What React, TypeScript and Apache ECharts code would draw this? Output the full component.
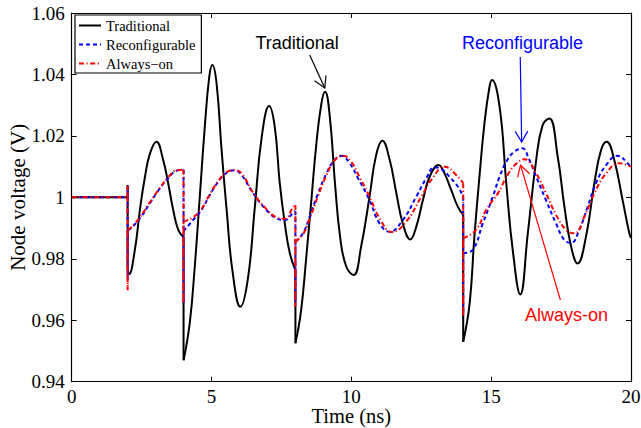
import React, { useEffect, useRef } from "react";
import * as echarts from "echarts";

// Tick values
const timeTicks = [0, 5, 10, 15, 20];
const voltageTicks = [0.94, 0.96, 0.98, 1.0, 1.02, 1.04, 1.06];

// Series (time in ns, voltage in V); equal consecutive times = vertical step
const traditional: [number, number][] = [
  [0, 1.0], [2, 1.0], [2, 1.004], [2, 0.9765],
  [2.05, 0.975], [2.26, 0.983], [2.44, 0.996], [2.62, 1.0067], [2.8, 1.0143], [3.03, 1.0181],
  [3.27, 1.0122], [3.45, 1.0046], [3.63, 0.9959], [3.81, 0.9894], [4.0, 0.987],
  [4.0, 0.947],
  [4.22, 0.959], [4.4, 0.9774], [4.58, 1.0002], [4.76, 1.023], [4.92, 1.0393], [5.03, 1.0431],
  [5.18, 1.0371], [5.36, 1.0154], [5.54, 0.996], [5.75, 0.976], [6.03, 0.9644],
  [6.3, 0.9735], [6.55, 0.997], [6.8, 1.02], [7.06, 1.0297],
  [7.26, 1.023], [7.44, 1.0046], [7.62, 0.9915], [7.8, 0.9818], [8.0, 0.9763],
  [8.0, 0.9525],
  [8.2, 0.963], [8.39, 0.9807], [8.57, 0.9991], [8.75, 1.0176], [8.93, 1.0306], [9.06, 1.0344],
  [9.23, 1.0262], [9.42, 1.004], [9.6, 0.987], [9.82, 0.9774], [10.08, 0.9747],
  [10.35, 0.984], [10.65, 1.0002], [10.88, 1.0135], [11.11, 1.0184],
  [11.37, 1.0122], [11.61, 1.0013], [11.84, 0.9915], [12.11, 0.9863],
  [12.32, 0.9904], [12.56, 0.9991], [12.8, 1.0067], [13.12, 1.0105],
  [13.33, 1.0078], [13.57, 1.0024], [13.81, 0.9969], [14.0, 0.9943],
  [14.0, 0.953],
  [14.23, 0.9655], [14.4, 0.9872], [14.58, 1.0067], [14.76, 1.0241], [14.94, 1.036], [15.03, 1.0382],
  [15.3, 1.0295], [15.54, 1.0046], [15.77, 0.9829], [16.04, 0.9684],
  [16.31, 0.9883], [16.61, 1.0122], [16.84, 1.0235], [17.08, 1.0257],
  [17.38, 1.0132], [17.62, 0.9969], [17.86, 0.9839], [18.09, 0.9785],
  [18.39, 0.9872], [18.69, 1.0046], [18.93, 1.0154], [19.13, 1.0181],
  [19.4, 1.0122], [19.7, 0.9991], [19.94, 0.9883], [20, 0.9868],
];

const reconfigurable: [number, number][] = [
  [0, 1.0], [2, 1.0], [2, 1.0037], [2, 0.973], [2, 0.9894],
  [2.1, 0.9898], [2.44, 0.9932], [2.8, 0.9981], [3.15, 1.0029], [3.45, 1.0062], [3.75, 1.0087], [4.0, 1.009],
  [4.0, 0.9655], [4.0, 0.989],
  [4.34, 0.9926], [4.64, 0.9959], [4.94, 1.0008], [5.24, 1.0051], [5.54, 1.008], [5.8, 1.0088],
  [6.05, 1.0075], [6.49, 1.0013], [6.96, 0.9959], [7.32, 0.9932], [7.62, 0.9926], [7.9, 0.9948], [8.0, 0.9955],
  [8.0, 0.966], [8.0, 0.9856],
  [8.27, 0.9883], [8.51, 0.9937], [8.81, 1.0013], [9.11, 1.0078], [9.4, 1.0122], [9.64, 1.0135],
  [9.94, 1.0111], [10.24, 1.0062], [10.65, 0.9991], [11.01, 0.9915], [11.37, 0.9888],
  [11.84, 0.9926], [12.32, 1.0002], [12.68, 1.0062], [12.98, 1.0098], [13.25, 1.009],
  [13.51, 1.0067], [13.81, 1.0035], [14.0, 1.0002],
  [14.0, 0.962], [14.0, 0.9818],
  [14.34, 0.9829], [14.7, 0.9915], [15.06, 1.0002], [15.3, 1.0067], [15.6, 1.0125], [15.85, 1.015],
  [16.11, 1.016], [16.35, 1.0125], [16.61, 1.0067], [16.96, 0.9991], [17.32, 0.9915], [17.62, 0.9861],
  [17.86, 0.9852], [18.15, 0.9894], [18.45, 0.9969], [18.75, 1.0046], [19.11, 1.0105], [19.52, 1.0135],
  [19.88, 1.0111], [20, 1.0095],
];

const alwaysOn: [number, number][] = [
  [0, 1.0], [2, 1.0], [2, 1.0037], [2, 0.9698], [2, 0.9894],
  [2.1, 0.99], [2.44, 0.9935], [2.8, 0.9985], [3.15, 1.003], [3.45, 1.0065], [3.75, 1.0088], [4.0, 1.009],
  [4.0, 0.9655], [4.0, 0.9921],
  [4.34, 0.9935], [4.64, 0.9962], [4.94, 1.001], [5.24, 1.0053], [5.54, 1.0082], [5.85, 1.0088],
  [6.1, 1.0075], [6.49, 1.0015], [6.96, 0.9962], [7.32, 0.9935], [7.62, 0.993], [7.9, 0.9965], [8.0, 0.9975],
  [8.0, 0.9644], [8.0, 0.9856],
  [8.27, 0.988], [8.51, 0.993], [8.81, 1.0005], [9.11, 1.0072], [9.4, 1.012], [9.72, 1.0135],
  [10.0, 1.0115], [10.3, 1.0065], [10.65, 1.0002], [11.05, 0.9925], [11.45, 0.9887],
  [11.96, 0.9921], [12.5, 1.0002], [12.9, 1.0062], [13.33, 1.01], [13.75, 1.0073], [14.0, 1.0046],
  [14.0, 0.9612], [14.0, 0.9867],
  [14.46, 0.9894], [14.82, 0.9959], [15.24, 1.0013], [15.6, 1.0075], [15.9, 1.011], [16.19, 1.0124],
  [16.61, 1.0078], [16.96, 1.0013], [17.32, 0.9943], [17.68, 0.9894], [17.98, 0.9883],
  [18.33, 0.9937], [18.69, 1.0013], [19.11, 1.0078], [19.58, 1.0111], [20, 1.01],
];

const seriesNames = ["Traditional", "Reconfigurable", "Always\u2212on"];

type Seg = { pts: [number, number][]; jump: boolean };
function splitSegments(pts: [number, number][]): Seg[] {
  const segs: Seg[] = [];
  let cur: [number, number][] = [pts[0]];
  let curJump: boolean | null = null;
  for (let i = 1; i < pts.length; i++) {
    const isJump = pts[i][0] === pts[i - 1][0];
    if (curJump === null || curJump === isJump) {
      cur.push(pts[i]);
      curJump = isJump;
    } else {
      segs.push({ pts: cur, jump: curJump });
      cur = [pts[i - 1], pts[i]];
      curJump = isJump;
    }
  }
  segs.push({ pts: cur, jump: !!curJump });
  return segs;
}

function makeSeries(name: string, pts: [number, number][], color: string, dash: any, z: number) {
  return splitSegments(pts).map((s) => ({
    type: "line",
    name,
    data: s.pts,
    smooth: s.jump ? false : 0.45,
    symbol: "none",
    showSymbol: false,
    silent: true,
    z,
    lineStyle: { color, width: 2, type: dash, cap: "butt" },
    itemStyle: { color },
    emphasis: { disabled: true },
  }));
}

export default function App() {
  const ref = useRef<HTMLDivElement>(null);
  useEffect(() => {
    const chart = echarts.init(ref.current!, null, { renderer: "svg", width: 641, height: 428 });
    const serif = "Liberation Serif";
    const sans = "Liberation Sans";
    const step = voltageTicks[1] - voltageTicks[0];
    const axisCommon = {
      axisLine: { show: true, onZero: false, lineStyle: { color: "#000", width: 1.2 } },
      axisTick: { show: true, inside: true, length: 5, lineStyle: { color: "#000", width: 1 } },
      splitLine: { show: false },
    };
    const richTick = { t: { fontFamily: serif, fontSize: 19, color: "#000" } };
    const option: any = {
      animation: false,
      backgroundColor: "#fff",
      textStyle: { fontFamily: serif, color: "#000" },
      grid: {
        left: 71.7,
        right: 10,
        top: 13,
        bottom: 46.3,
        containLabel: false,
        outerBoundsMode: "none",
      },
      legend: {
        data: seriesNames,
        orient: "vertical",
        left: 75,
        top: 15,
        padding: [3, 6, 2, 3],
        itemGap: 4,
        itemWidth: 22,
        itemHeight: 12,
        backgroundColor: "#fff",
        borderColor: "#000",
        borderWidth: 1.2,
        selectedMode: false,
        itemStyle: { opacity: 0 },
        textStyle: { fontFamily: serif, fontSize: 14.5, color: "#000", lineHeight: 14 },
      },
      xAxis: [
        {
          type: "value",
          min: timeTicks[0],
          max: timeTicks[timeTicks.length - 1],
          interval: timeTicks[1] - timeTicks[0],
          position: "bottom",
          name: "Time (ns)",
          nameLocation: "middle",
          nameGap: 24,
          nameMoveOverlap: false,
          nameTextStyle: { fontFamily: serif, fontSize: 20.5, color: "#000" },
          axisLabel: {
            fontFamily: serif,
            fontSize: 19,
            color: "#000",
            margin: 5,
            formatter: (v: number) => `{t|${v}}`,
            rich: richTick,
          },
          ...axisCommon,
        },
        {
          type: "value",
          min: timeTicks[0],
          max: timeTicks[timeTicks.length - 1],
          interval: timeTicks[1] - timeTicks[0],
          position: "top",
          axisLabel: { show: false },
          ...axisCommon,
        },
      ],
      yAxis: [
        {
          type: "value",
          min: voltageTicks[0],
          max: voltageTicks[voltageTicks.length - 1],
          interval: step,
          position: "left",
          name: "Node voltage (V)",
          nameLocation: "middle",
          nameGap: 43,
          nameRotate: 90,
          nameMoveOverlap: false,
          nameTextStyle: { fontFamily: serif, fontSize: 21, color: "#000" },
          axisLabel: {
            fontFamily: serif,
            fontSize: 19,
            color: "#000",
            margin: 7,
            formatter: (v: number) => `{t|${Math.abs(v - 1) < 1e-9 ? "1" : v.toFixed(2)}}`,
            rich: richTick,
          },
          ...axisCommon,
        },
        {
          type: "value",
          min: voltageTicks[0],
          max: voltageTicks[voltageTicks.length - 1],
          interval: step,
          position: "right",
          axisLabel: { show: false },
          ...axisCommon,
        },
      ],
      series: [
        ...makeSeries(seriesNames[0], traditional, "#000000", "solid", 2),
        ...makeSeries(seriesNames[1], reconfigurable, "#0000ff", [4, 3], 3),
        ...makeSeries(seriesNames[2], alwaysOn, "#ff0000", [5, 2.5, 1.2, 2.5], 4),
      ],
    };
    chart.setOption(option);

    const P = (t: number, v: number) =>
      chart.convertToPixel({ xAxisIndex: 0, yAxisIndex: 0 } as any, [t, v]) as number[];
    const arrow = (tail: number[], tip: number[], color: string) => {
      const a = P(tail[0], tail[1]);
      const b = P(tip[0], tip[1]);
      const dx = b[0] - a[0];
      const dy = b[1] - a[1];
      const L = Math.hypot(dx, dy);
      const bx = -dx / L;
      const by = -dy / L;
      const len = 12.5;
      const ang = Math.PI / 6;
      const arm = (s: number) => {
        const c = Math.cos(s * ang);
        const sn = Math.sin(s * ang);
        return [b[0] + len * (bx * c - by * sn), b[1] + len * (bx * sn + by * c)];
      };
      return [
        { type: "line", silent: true, z: 10, shape: { x1: a[0], y1: a[1], x2: b[0], y2: b[1] }, style: { stroke: color, lineWidth: 1.2 } },
        { type: "polyline", silent: true, z: 10, shape: { points: [arm(1), b, arm(-1)] }, style: { stroke: color, fill: null, lineWidth: 1.2 } },
      ];
    };
    const label = (text: string, at: number[], color: string) => {
      const p = P(at[0], at[1]);
      return {
        type: "text",
        silent: true,
        z: 10,
        x: p[0],
        y: p[1],
        style: { text, fill: color, fontFamily: sans, fontSize: 18, align: "center", verticalAlign: "middle" },
      };
    };
    chart.setOption({
      graphic: [
        label("Traditional", [8.06, 1.0503], "#000"),
        ...arrow([8.51, 1.0463], [9.05, 1.0356], "#000"),
        label("Reconfigurable", [16.12, 1.0503], "#0000ff"),
        ...arrow([16.04, 1.0457], [16.09, 1.018], "#0000ff"),
        label("Always-on", [17.69, 0.9617], "#ff0000"),
        ...arrow([17.475, 0.9666], [16.05, 1.0105], "#ff0000"),
      ],
    });
    return () => chart.dispose();
  }, []);
  return (
    <div
      ref={ref}
      style={{ position: "fixed", left: 0, top: 0, width: 641, height: 428, background: "#fff" }}
    />
  );
}
